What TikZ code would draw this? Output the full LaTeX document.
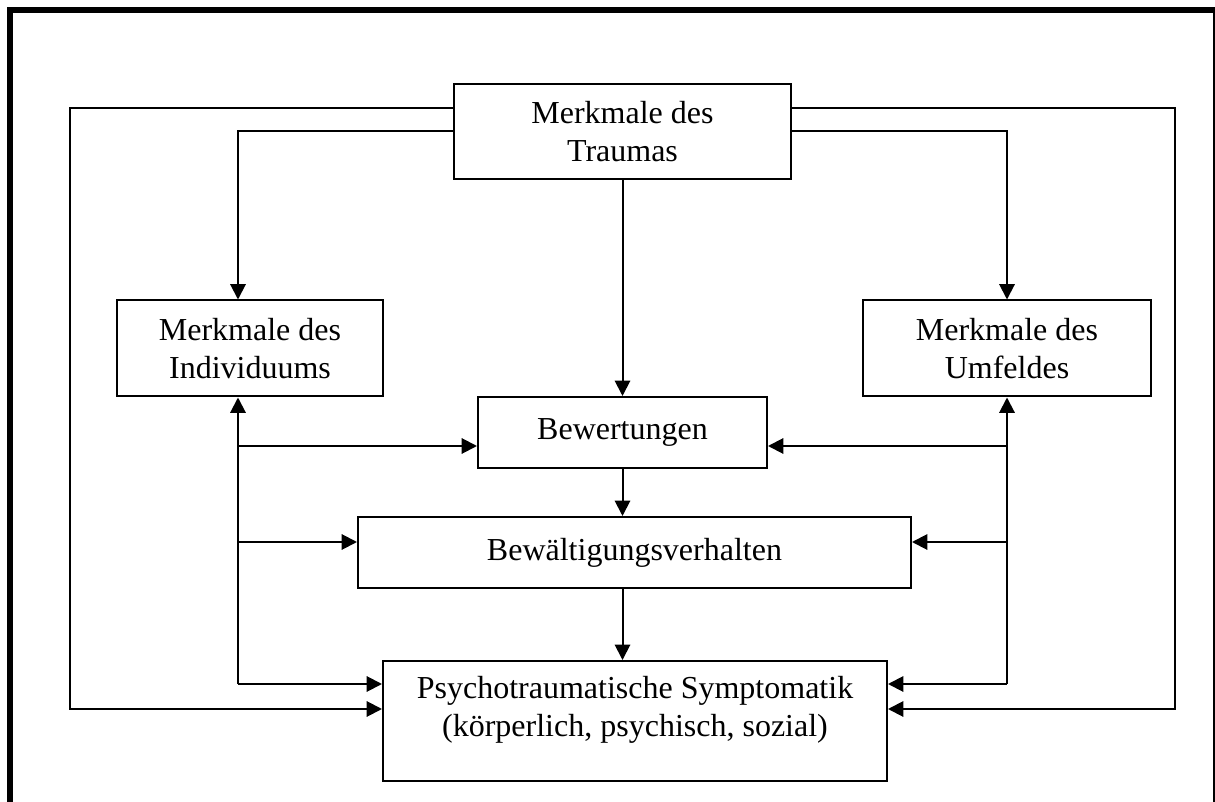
\documentclass[tikz,border=0pt]{standalone}
\usepackage{fontspec}
\setmainfont{Liberation Serif}
\usetikzlibrary{arrows.meta}
\newdimen\px
\px=0.75pt
\begin{document}
\begin{tikzpicture}[x=0.75pt,y=-0.75pt,
  box/.style={draw, line width=1.5pt, inner sep=0pt, align=center,
    font=\fontsize{24}{28}\selectfont},
  txt/.style={inner sep=0pt, align=center, font=\fontsize{24}{28}\selectfont},
  conn/.style={line width=1.5pt},
  arr/.style={conn, -{Triangle[length=11.5pt,width=11.5pt]}},
  frameline/.style={line width=6\px}
]
\useasboundingbox (0,0) rectangle (1215,802);
\clip (0,0) rectangle (1215,802);
\fill[white] (0,0) rectangle (1215,802);
% outer frame
\draw[frameline] (10,812) -- (10,10) -- (1216,10) -- (1216,812);

% boxes
\node[box, minimum width=337\px, minimum height=95\px] (trauma) at (622.5,131.5) {Merkmale des\\Traumas};
\node[box, minimum width=266\px, minimum height=96\px] (indiv) at (250,348.5) {Merkmale des\\Individuums};
\node[box, minimum width=288\px, minimum height=96\px] (umfeld) at (1007,348.5) {Merkmale des\\Umfeldes};
\node[box, minimum width=289\px, minimum height=71\px] (bew) at (622.5,432.5) {Bewertungen};
\node[box, minimum width=553\px, minimum height=71\px] (bwv) at (634.5,552.5) {Bewältigungsverhalten};
\node[box, minimum width=504\px, minimum height=120\px] (psy) at (635,721) {};
\node[txt] (psyt) at (635,710) {Psychotraumatische Symptomatik\\(körperlich, psychisch, sozial)};

% helper coordinates
\coordinate (il) at (238,0);
\coordinate (ir) at (1007,0);
\coordinate (ol) at (70,108);
\coordinate (or) at (1175,108);
\coordinate (yb) at (0,446);
\coordinate (yv) at (0,542);
\coordinate (yp1) at (0,684);
\coordinate (yp2) at (0,709);

% central chain
\draw[arr] (trauma.south) -- (bew.north);
\draw[arr] (bew.south) -- (bew.south |- bwv.north);
\draw[arr] (bew.south |- bwv.south) -- (bew.south |- psy.north);

% trauma to individuum / umfeld
\draw[arr] (trauma.west) -| (il |- indiv.north);
\draw[arr] (trauma.east) -| (ir |- umfeld.north);

% outer loops
\draw[arr] (trauma.west |- ol) -- (ol) |- (psy.west |- yp2);
\draw[arr] (trauma.east |- or) -- (or) |- (psy.east |- yp2);

% left bus
\draw[arr] (il |- yp1) -- (il |- indiv.south);
\draw[arr] (il |- yb) -- (bew.west |- yb);
\draw[arr] (il |- yv) -- (bwv.west |- yv);
\draw[arr] (il |- yp1) -- (psy.west |- yp1);

% right bus
\draw[arr] (ir |- yp1) -- (ir |- umfeld.south);
\draw[arr] (ir |- yb) -- (bew.east |- yb);
\draw[arr] (ir |- yv) -- (bwv.east |- yv);
\draw[arr] (ir |- yp1) -- (psy.east |- yp1);
\end{tikzpicture}
\end{document}
